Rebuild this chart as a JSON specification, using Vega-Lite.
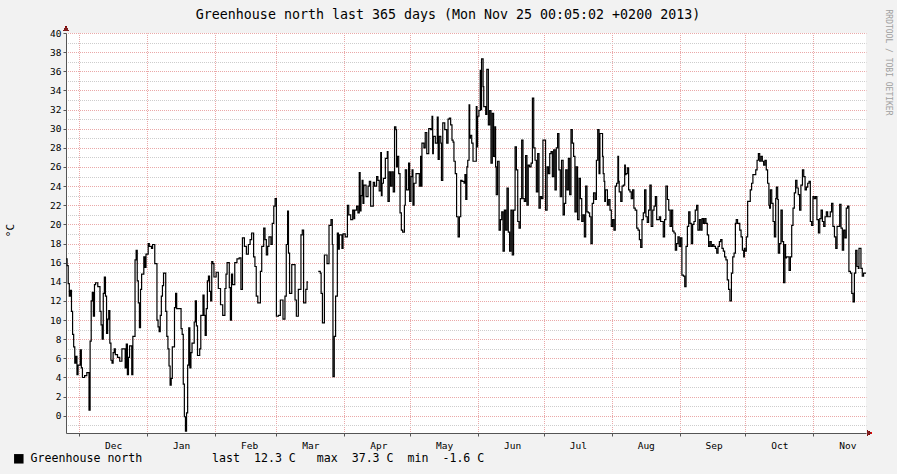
{
  "$schema": "https://vega.github.io/schema/vega-lite/v6.json",
  "width": 800,
  "height": 400,
  "autosize": "none",
  "padding": {"left": 66, "top": 33, "right": 31, "bottom": 41},
  "background": "#f2f2f2",
  "config": {
    "view": {"fill": "white", "stroke": null},
    "font": "DejaVu Sans Mono"
  },
  "title": {
    "text": "Greenhouse north last 365 days (Mon Nov 25 00:05:02 +0200 2013)",
    "font": "DejaVu Sans Mono",
    "fontSize": 13.3,
    "fontWeight": "normal",
    "color": "black",
    "anchor": "middle",
    "frame": "group",
    "dx": -18,
    "dy": 16,
    "offset": 4
  },
  "data": {
    "values": [
      {"d":0,"v":16.4},{"d":0.5,"v":15.7},{"d":1,"v":13.8},{"d":1.5,"v":12.5},{"d":2,"v":13.1},{"d":2.5,"v":10.9},{"d":3,"v":8.5},{"d":3.5,"v":7.2},{"d":4,"v":5.5},{"d":4.5,"v":6.2},{"d":5,"v":4.3},{"d":5.5,"v":5.3},{"d":6.5,"v":6.9},{"d":7,"v":5.0},{"d":7.5,"v":4.0},{"d":8.5,"v":4.2},{"d":9.5,"v":4.5},{"d":10.5,"v":0.6},{"d":11,"v":7.8},{"d":11.5,"v":12.0},{"d":12,"v":12.9},{"d":12.5,"v":10.4},{"d":13,"v":13.7},{"d":13.5,"v":13.9},{"d":14.5,"v":13.5},{"d":15.5,"v":10.9},{"d":16,"v":9.5},{"d":16.5,"v":8.0},{"d":17,"v":12.8},{"d":17.5,"v":14.5},{"d":18,"v":12.5},{"d":18.5,"v":8.6},{"d":19,"v":10.1},{"d":19.5,"v":11.0},{"d":20,"v":7.6},{"d":20.5,"v":5.8},{"d":21,"v":5.5},{"d":21.5,"v":6.6},{"d":22,"v":7.0},{"d":22.5,"v":6.4},{"d":23.5,"v":6.1},{"d":24.5,"v":5.7},{"d":25.5,"v":7.0},{"d":27,"v":5.0},{"d":27.5,"v":7.5},{"d":28,"v":4.3},{"d":28.5,"v":6.1},{"d":29,"v":7.3},{"d":30,"v":4.3},{"d":30.5,"v":8.3},{"d":31.5,"v":16.3},{"d":32,"v":17.3},{"d":32.5,"v":14.1},{"d":33,"v":11.8},{"d":33.5,"v":9.2},{"d":34,"v":13.2},{"d":34.5,"v":14.8},{"d":35.5,"v":16.6},{"d":36,"v":15.5},{"d":36.5,"v":16.9},{"d":37.5,"v":18.0},{"d":38,"v":17.7},{"d":39,"v":17.5},{"d":39.5,"v":17.9},{"d":40.5,"v":15.9},{"d":41.5,"v":10.0},{"d":42,"v":9.3},{"d":42.5,"v":8.8},{"d":43,"v":10.5},{"d":43.5,"v":12.5},{"d":44,"v":13.6},{"d":44.5,"v":14.9},{"d":45.5,"v":10.9},{"d":46,"v":8.3},{"d":46.5,"v":7.0},{"d":47,"v":5.2},{"d":47.5,"v":3.2},{"d":48,"v":3.9},{"d":48.5,"v":7.2},{"d":49.5,"v":11.3},{"d":50,"v":12.8},{"d":50.5,"v":11.2},{"d":52.5,"v":9.1},{"d":53,"v":8.5},{"d":53.5,"v":3.3},{"d":54,"v":-0.1},{"d":54.5,"v":-1.6},{"d":55,"v":0.3},{"d":55.5,"v":5.3},{"d":56,"v":9.2},{"d":56.5,"v":5.0},{"d":57,"v":6.6},{"d":57.5,"v":7.6},{"d":58.5,"v":9.8},{"d":59,"v":12.0},{"d":59.5,"v":9.4},{"d":60,"v":6.3},{"d":61,"v":7.0},{"d":61.5,"v":10.5},{"d":62.5,"v":12.6},{"d":63,"v":10.5},{"d":63.5,"v":8.4},{"d":64,"v":11.2},{"d":64.5,"v":14.1},{"d":65,"v":14.6},{"d":65.5,"v":13.0},{"d":66,"v":12.0},{"d":66.5,"v":16.1},{"d":67,"v":15.9},{"d":67.5,"v":14.5},{"d":68.5,"v":15.0},{"d":69.5,"v":13.3},{"d":70.5,"v":11.6},{"d":71.5,"v":10.5},{"d":72.5,"v":13.3},{"d":73,"v":14.8},{"d":73.5,"v":16.0},{"d":74.5,"v":13.4},{"d":75,"v":10.0},{"d":75.5,"v":14.8},{"d":76,"v":13.7},{"d":77,"v":16.0},{"d":78,"v":16.4},
      {"d":79,"v":16.5},{"d":79.8,"v":13.2},{"d":80.5,"v":18.6},{"d":81.4,"v":17.7},{"d":82.3,"v":16.9},{"d":83.2,"v":17.9},{"d":84,"v":18.4},{"d":84.7,"v":19.1},{"d":85.6,"v":16.6},{"d":86.2,"v":15.6},{"d":86.8,"v":12.5},{"d":87.5,"v":11.8},{"d":88.7,"v":15.1},{"d":89.3,"v":17.7},{"d":90.2,"v":19.6},{"d":90.8,"v":18.4},{"d":91.4,"v":16.8},{"d":92,"v":17.7},{"d":92.6,"v":18.7},{"d":93.5,"v":17.9},{"d":94.1,"v":20.1},{"d":94.8,"v":21.9},{"d":95.4,"v":22.7},{"d":96,"v":10.4},{"d":96.9,"v":10.5},{"d":97.8,"v":12.1},{"d":99,"v":10.1},{"d":99.9,"v":12.5},{"d":100.5,"v":17.9},{"d":101.1,"v":21.4},{"d":101.5,"v":17.0},{"d":102,"v":12.8},{"d":103,"v":15.8},{"d":104.5,"v":12.1},{"d":105.1,"v":10.4},{"d":106,"v":13.2},{"d":107.2,"v":18.9},{"d":107.8,"v":19.4},{"d":108.4,"v":11.8},{"d":109.4,"v":13.2},{"d":110,"v":14.0},{"d":110.4,"v":14.0},{"d":110.5,"v":null},{"d":115.1,"v":15.1},{"d":116,"v":14.9},{"d":116.4,"v":12.8},{"d":117,"v":9.7},{"d":117.9,"v":16.8},{"d":119.1,"v":15.9},{"d":120,"v":19.9},{"d":120.9,"v":20.5},{"d":121.5,"v":17.9},{"d":121.8,"v":4.1},{"d":122.4,"v":8.3},{"d":123,"v":12.5},
      {"d":123.8,"v":19.1},{"d":124.3,"v":17.4},{"d":124.7,"v":18.9},{"d":125.9,"v":17.5},{"d":126.4,"v":19.0},{"d":127.4,"v":18.7},{"d":128.4,"v":22.0},{"d":129,"v":21.0},{"d":129.9,"v":20.5},{"d":130.8,"v":21.5},{"d":131.4,"v":20.6},{"d":131.7,"v":21.5},{"d":132.6,"v":21.9},{"d":133.2,"v":21.2},{"d":133.8,"v":25.4},{"d":134.2,"v":21.4},{"d":134.6,"v":23.0},{"d":135.1,"v":24.6},{"d":135.5,"v":22.2},{"d":135.9,"v":24.1},{"d":136.9,"v":22.9},{"d":137.8,"v":24.0},{"d":138.4,"v":24.5},{"d":139,"v":21.9},{"d":140.2,"v":24.4},{"d":140.8,"v":24.0},{"d":141.7,"v":25.0},{"d":142.3,"v":24.6},{"d":142.9,"v":23.5},{"d":143.6,"v":27.5},{"d":143.9,"v":23.0},{"d":144.2,"v":24.3},{"d":144.8,"v":24.8},{"d":145.7,"v":26.9},{"d":146.6,"v":27.6},{"d":146.9,"v":22.4},{"d":147.5,"v":25.5},{"d":148.1,"v":24.0},{"d":148.7,"v":25.5},{"d":149.3,"v":23.4},{"d":149.9,"v":30.2},{"d":150.5,"v":29.9},{"d":150.8,"v":26.0},{"d":151.2,"v":27.1},{"d":151.8,"v":25.3},{"d":152.4,"v":21.2},{"d":153,"v":19.4},{"d":153.6,"v":19.2},{"d":154.4,"v":22.0},{"d":154.8,"v":25.7},{"d":155.4,"v":23.6},{"d":156.3,"v":26.4},{"d":156.8,"v":22.4},{"d":157.4,"v":25.0},{"d":157.9,"v":25.7},{"d":158.3,"v":22.0},{"d":158.8,"v":24.3},{"d":159.7,"v":25.3},{"d":160.6,"v":25.3},{"d":161.2,"v":24.0},{"d":161.8,"v":27.1},{"d":162.1,"v":24.0},{"d":162.4,"v":28.5},{"d":163.3,"v":28.0},{"d":163.9,"v":29.6},{"d":164.6,"v":27.4},{"d":165.5,"v":30.0},{"d":166.4,"v":29.9},{"d":167,"v":31.3},{"d":167.3,"v":27.4},{"d":167.6,"v":29.2},{"d":168.5,"v":28.5},{"d":169.4,"v":31.2},{"d":169.8,"v":26.8},{"d":170.3,"v":29.2},{"d":171,"v":28.5},{"d":171.3,"v":24.6},{"d":171.9,"v":30.6},{"d":172.8,"v":29.9},{"d":173.7,"v":28.5},{"d":174.3,"v":31.0},{"d":174.9,"v":31.1},{"d":175.5,"v":30.4},{"d":176.1,"v":28.8},{"d":176.6,"v":28.6},{"d":177,"v":26.6},{"d":177.6,"v":25.3},{"d":178.2,"v":20.8},{"d":178.9,"v":18.7},{"d":179.5,"v":20.8},{"d":180.1,"v":24.6},{"d":180.7,"v":24.5},{"d":181.6,"v":24.3},
      {"d":182,"v":25.2},{"d":182.4,"v":22.6},{"d":182.9,"v":26.0},{"d":183.3,"v":26.7},{"d":183.9,"v":32.5},{"d":184.2,"v":29.0},{"d":184.5,"v":29.3},{"d":185.1,"v":28.5},{"d":185.7,"v":26.6},{"d":187.2,"v":32.3},{"d":187.5,"v":28.1},{"d":187.8,"v":31.3},{"d":188.4,"v":31.9},{"d":189,"v":36.1},{"d":189.3,"v":32.0},{"d":189.6,"v":37.3},{"d":190.3,"v":34.4},{"d":190.6,"v":32.3},{"d":191.5,"v":31.5},{"d":192,"v":36.2},{"d":192.7,"v":30.4},{"d":193.3,"v":31.9},{"d":193.9,"v":26.4},{"d":194.5,"v":31.6},{"d":195.1,"v":27.1},{"d":195.7,"v":30.2},{"d":196,"v":26.0},{"d":196.3,"v":23.1},{"d":196.9,"v":26.6},{"d":197.6,"v":19.4},{"d":198.2,"v":20.5},{"d":198.8,"v":21.3},{"d":199.4,"v":17.2},{"d":200,"v":21.5},{"d":200.6,"v":19.4},{"d":201.2,"v":23.8},{"d":201.8,"v":19.2},{"d":202.4,"v":17.2},{"d":203,"v":21.5},{"d":203.6,"v":16.8},{"d":204.2,"v":21.5},{"d":204.9,"v":28.1},{"d":205.5,"v":25.7},{"d":206.1,"v":20.3},{"d":206.7,"v":19.6},{"d":207.3,"v":22.7},{"d":207.9,"v":28.8},{"d":208.5,"v":22.7},{"d":209.1,"v":22.4},{"d":209.7,"v":27.2},{"d":210.3,"v":22.0},{"d":210.9,"v":26.2},{"d":211.5,"v":26.0},{"d":212.2,"v":26.4},{"d":212.8,"v":33.2},{"d":213.4,"v":28.0},{"d":214,"v":26.7},{"d":214.6,"v":23.4},{"d":215.2,"v":27.4},{"d":215.8,"v":21.7},{"d":216.4,"v":22.9},{"d":217,"v":22.7},{"d":217.6,"v":28.8},{"d":218.8,"v":21.5},{"d":219.5,"v":26.0},{"d":220.1,"v":25.3},{"d":220.7,"v":27.4},{"d":221.3,"v":27.6},{"d":221.9,"v":25.0},{"d":222.5,"v":27.8},{"d":223.1,"v":23.6},{"d":223.7,"v":28.0},{"d":224.3,"v":29.5},{"d":224.9,"v":25.7},{"d":225.5,"v":22.9},{"d":226.1,"v":26.7},{"d":226.8,"v":21.0},{"d":227.4,"v":22.2},{"d":228,"v":25.7},{"d":228.6,"v":23.6},{"d":229.2,"v":26.9},{"d":229.8,"v":23.1},{"d":230.4,"v":29.9},{"d":231,"v":28.5},{"d":231.6,"v":27.1},{"d":232.2,"v":21.3},{"d":232.8,"v":26.0},{"d":233.4,"v":20.5},{"d":234.1,"v":24.8},{"d":234.7,"v":22.7},{"d":235.3,"v":20.3},{"d":235.9,"v":21.0},{"d":236.5,"v":18.7},{"d":237.1,"v":24.0},{"d":237.7,"v":21.3},{"d":238.3,"v":21.2},{"d":238.9,"v":20.8},{"d":239.5,"v":18.0},{"d":240.1,"v":22.2},{"d":240.7,"v":23.3},{"d":241.4,"v":22.6},{"d":242,"v":26.7},{"d":242.6,"v":29.9},{"d":243.2,"v":25.3},
      {"d":243.6,"v":29.5},{"d":244.8,"v":27.1},{"d":245.1,"v":25.3},{"d":245.5,"v":24.5},{"d":245.8,"v":22.4},{"d":246.1,"v":23.6},{"d":247,"v":22.0},{"d":247.6,"v":22.6},{"d":248.2,"v":21.5},{"d":248.8,"v":19.8},{"d":249.4,"v":20.5},{"d":250,"v":19.4},{"d":250.6,"v":24.0},{"d":251.2,"v":24.3},{"d":251.8,"v":27.1},{"d":252.1,"v":24.5},{"d":252.4,"v":23.4},{"d":253.1,"v":22.4},{"d":253.7,"v":24.0},{"d":254.3,"v":24.1},{"d":254.9,"v":26.2},{"d":255.2,"v":25.2},{"d":255.5,"v":25.3},{"d":256.1,"v":25.9},{"d":256.7,"v":23.6},{"d":257.3,"v":23.4},{"d":257.9,"v":22.7},{"d":258.5,"v":23.6},{"d":259.1,"v":21.7},{"d":259.7,"v":21.5},{"d":260.4,"v":19.6},{"d":261,"v":19.4},{"d":261.6,"v":18.4},{"d":262.2,"v":17.6},{"d":262.8,"v":20.5},{"d":263.4,"v":21.2},{"d":264,"v":23.6},{"d":264.6,"v":20.8},{"d":265.2,"v":20.2},{"d":265.8,"v":21.5},{"d":266.4,"v":24.1},{"d":267,"v":19.8},{"d":267.7,"v":21.5},{"d":268.3,"v":21.9},{"d":268.9,"v":22.9},{"d":269.5,"v":20.5},{"d":270.7,"v":20.8},{"d":271.3,"v":20.3},{"d":272.5,"v":18.7},{"d":273.1,"v":20.5},{"d":273.7,"v":24.0},{"d":274.4,"v":22.6},{"d":275,"v":21.5},{"d":275.6,"v":19.8},{"d":276.2,"v":21.5},{"d":276.8,"v":19.3},{"d":277.4,"v":19.1},{"d":278,"v":17.3},{"d":278.6,"v":18.0},{"d":279.2,"v":18.7},{"d":279.8,"v":17.7},{"d":280.4,"v":18.6},{"d":281,"v":14.7},{"d":281.7,"v":14.6},{"d":282.3,"v":13.5},{"d":282.9,"v":17.7},{"d":283.5,"v":19.8},{"d":284.1,"v":21.3},{"d":284.7,"v":20.1},{"d":285.3,"v":18.0},{"d":285.9,"v":20.0},{"d":286.5,"v":20.3},{"d":287.1,"v":21.5},{"d":287.7,"v":22.0},{"d":288.3,"v":19.4},{"d":289,"v":20.5},{"d":289.6,"v":19.4},{"d":290.2,"v":20.6},{"d":290.8,"v":20.1},{"d":291.4,"v":20.6},{"d":292,"v":20.1},{"d":292.6,"v":18.9},{"d":293.2,"v":17.7},{"d":293.8,"v":18.2},{"d":294.4,"v":17.7},{"d":295,"v":17.9},{"d":295.6,"v":17.7},{"d":296.3,"v":17.5},{"d":296.9,"v":17.0},{"d":297.5,"v":17.7},{"d":298.1,"v":18.2},{"d":298.7,"v":18.4},{"d":299.3,"v":17.5},{"d":299.9,"v":17.2},{"d":300.5,"v":16.6},{"d":301.1,"v":16.3},{"d":301.7,"v":14.2},{"d":302.3,"v":13.2},{"d":302.9,"v":12.0},{"d":303.6,"v":14.9},{"d":304.2,"v":16.6},{"d":304.8,"v":17.0},{"d":305.4,"v":20.1},
      {"d":305.8,"v":20.5},{"d":306.4,"v":20.1},{"d":307.4,"v":19.4},{"d":308,"v":18.7},{"d":308.6,"v":17.3},{"d":309.2,"v":16.6},{"d":309.5,"v":17.5},{"d":309.8,"v":17.2},{"d":310.4,"v":18.7},{"d":311,"v":22.4},{"d":312.2,"v":23.6},{"d":312.8,"v":24.3},{"d":313.4,"v":25.2},{"d":314.7,"v":25.7},{"d":315.3,"v":26.7},{"d":315.9,"v":27.4},{"d":316.5,"v":26.6},{"d":317.1,"v":27.1},{"d":317.7,"v":26.6},{"d":318.3,"v":26.2},{"d":318.9,"v":26.7},{"d":319.5,"v":25.7},{"d":320.1,"v":24.3},{"d":320.7,"v":22.0},{"d":321,"v":21.7},{"d":321.4,"v":23.6},{"d":322,"v":22.2},{"d":322.6,"v":20.3},{"d":323.2,"v":18.7},{"d":323.8,"v":22.7},{"d":324.1,"v":23.9},{"d":324.7,"v":22.6},{"d":325,"v":17.0},{"d":325.6,"v":18.0},{"d":326.2,"v":21.5},{"d":326.8,"v":18.2},{"d":327.4,"v":13.9},{"d":328,"v":17.9},{"d":328.3,"v":16.5},{"d":328.7,"v":16.6},{"d":329.9,"v":15.2},{"d":330.5,"v":16.6},{"d":331.1,"v":19.9},{"d":331.7,"v":21.7},{"d":332.3,"v":23.3},{"d":332.9,"v":24.6},{"d":333.5,"v":23.8},{"d":334.1,"v":23.1},{"d":334.7,"v":21.5},{"d":335.3,"v":24.1},{"d":336,"v":25.7},{"d":336.6,"v":25.0},{"d":337.2,"v":23.6},{"d":337.8,"v":23.9},{"d":338.4,"v":24.3},{"d":339,"v":24.5},{"d":339.6,"v":20.3},{"d":340.2,"v":19.9},{"d":340.8,"v":22.9},{"d":341.4,"v":22.7},{"d":342,"v":22.9},{"d":342.6,"v":20.5},{"d":343.3,"v":19.1},{"d":343.9,"v":20.6},{"d":344.5,"v":21.5},{"d":345.1,"v":20.3},{"d":345.7,"v":19.8},{"d":346.3,"v":20.8},{"d":346.9,"v":21.3},{"d":347.5,"v":20.8},{"d":348.7,"v":21.3},{"d":349.3,"v":22.2},{"d":349.9,"v":19.8},{"d":350.6,"v":18.7},{"d":351.2,"v":17.5},{"d":351.8,"v":19.8},{"d":353,"v":22.1},{"d":353.6,"v":19.6},{"d":354.2,"v":17.3},{"d":354.8,"v":19.4},{"d":355.4,"v":18.6},{"d":356,"v":21.7},{"d":356.6,"v":21.9},{"d":357.2,"v":15.1},{"d":357.9,"v":14.9},{"d":358.5,"v":12.8},{"d":359.1,"v":11.9},{"d":359.7,"v":14.9},{"d":360.3,"v":17.3},{"d":360.9,"v":15.6},{"d":361.5,"v":15.4},{"d":361.8,"v":17.5},{"d":362.7,"v":15.4},{"d":363.3,"v":14.6},{"d":363.9,"v":14.9},{"d":365,"v":14.9}
    ]
  },
  "resolve": {"axis": {"y": "independent"}},
  "layer": [
    {
      "mark": {"type": "line", "interpolate": "step-after", "strokeWidth": 1.2, "color": "black", "invalid": "break-paths-show-domains"},
      "encoding": {
        "x": {
          "field": "d", "type": "quantitative",
          "scale": {"domain": [0, 365], "nice": false, "zero": false},
          "axis": {
            "title": null,
            "values": [6, 37, 68, 96, 127, 157, 188, 218, 249, 280, 310, 341],
            "labelExpr": "['Dec','Jan','Feb','Mar','Apr','May','Jun','Jul','Aug','Sep','Oct','Nov'][indexof([6,37,68,96,127,157,188,218,249,280,310,341], datum.value)]",
            "labelOffset": 34,
            "labelFlush": false,
            "labelOverlap": false,
            "labelBound": false,
            "labelFont": "DejaVu Sans Mono",
            "labelFontSize": 9.5,
            "labelColor": "black",
            "labelPadding": 4,
            "grid": true,
            "gridColor": "#eaa8a8",
            "gridDash": [1, 1],
            "gridDashOffset": 0.5,
            "gridWidth": 1,
            "tickSize": 3,
            "tickColor": "#555",
            "domainColor": "#555"
          }
        },
        "y": {
          "field": "v", "type": "quantitative",
          "scale": {"domain": [-1.8, 40], "nice": false, "zero": false},
          "axis": {
            "title": "°C",
            "titleFont": "DejaVu Sans Mono",
            "titleFontSize": 11,
            "titleFontWeight": "normal",
            "titleColor": "black",
            "titleX": -56,
            "titleY": 197,
            "titleAngle": -90,
            "titleAlign": "center",
            "titleBaseline": "middle",
            "values": [-1,0,1,2,3,4,5,6,7,8,9,10,11,12,13,14,15,16,17,18,19,20,21,22,23,24,25,26,27,28,29,30,31,32,33,34,35,36,37,38,39,40],
            "labelExpr": "datum.value % 2 == 0 ? datum.label : ''",
            "labelFont": "DejaVu Sans Mono",
            "labelFontSize": 9.5,
            "labelColor": "black",
            "labelPadding": 2,
            "grid": true,
            "gridColor": {"condition": {"test": "datum.value % 2 == 0", "value": "#eaa8a8"}, "value": "#cdcdcd"},
            "gridDash": [1, 1],
            "gridDashOffset": 0.5,
            "gridWidth": 1,
            "tickSize": 3,
            "tickColor": {"condition": {"test": "datum.value % 2 == 0", "value": "#555"}, "value": "transparent"},
            "domainColor": "#555"
          }
        },
        "color": {
          "datum": "Greenhouse north",
          "scale": {"range": ["black"]},
          "legend": {
            "title": null,
            "orient": "none",
            "legendX": -53,
            "legendY": 420,
            "symbolType": "square",
            "symbolSize": 90,
            "symbolFillColor": "black",
            "symbolStrokeColor": "black",
            "symbolStrokeWidth": 0,
            "labelFont": "DejaVu Sans Mono",
            "labelFontSize": 11.6,
            "labelColor": "black",
            "labelOffset": 6,
            "labelLimit": 0,
            "labelExpr": "datum.label + '\u00a0\u00a0\u00a0\u00a0\u00a0\u00a0\u00a0\u00a0\u00a0\u00a0last\u00a0\u00a012.3\u00a0C\u00a0\u00a0\u00a0max\u00a0\u00a037.3\u00a0C\u00a0\u00a0min\u00a0\u00a0-1.6\u00a0C'"
          }
        }
      }
    },
    {
      "mark": {"type": "point", "shape": "triangle-up", "filled": true, "color": "#801f1f", "size": 22, "opacity": 1},
      "encoding": {
        "x": {"datum": 0, "type": "quantitative"},
        "y": {
          "datum": 40.45, "type": "quantitative",
          "axis": {
            "orient": "right",
            "title": "RRDTOOL / TOBI OETIKER",
            "titleFont": "DejaVu Sans Mono",
            "titleFontSize": 8,
            "titleFontWeight": "normal",
            "titleColor": "#a0a0a0",
            "titleAngle": 90,
            "titleX": 21,
            "titleY": 29,
            "titleAlign": "center",
            "titleBaseline": "middle",
            "labels": false,
            "ticks": false,
            "domain": false,
            "grid": false
          }
        }
      }
    },
    {
      "mark": {"type": "point", "shape": "triangle-right", "filled": true, "color": "#801f1f", "size": 22, "opacity": 1},
      "encoding": {
        "x": {"datum": 366.4, "type": "quantitative"},
        "y": {"datum": -1.8, "type": "quantitative", "axis": null}
      }
    }
  ]
}
